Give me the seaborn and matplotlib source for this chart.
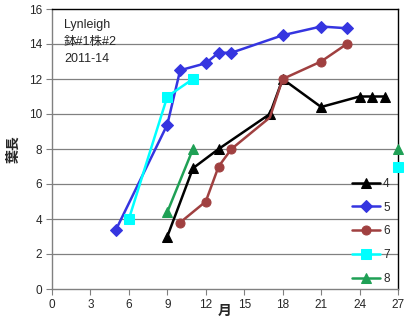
import numpy as np
import pandas as pd
import matplotlib
matplotlib.use("Agg")
import matplotlib.pyplot as plt
import seaborn as sns

sns.set_style("white")
plt.rcParams["font.family"] = ["Liberation Sans", "Noto Sans CJK JP", "DejaVu Sans"]

# Leaf length per leaf number (月 vs 葉長); segments split where the record has a gap
leaf4_x = [9, 11, 13, 17, 18, 21, 24, 25, 26]
leaf4_y = [3.0, 6.9, 8.0, 10.0, 12.0, 10.4, 11.0, 11.0, 11.0]
leaf5_x = [5, 9, 10, 12, 13, 14, 18, 21, 23]
leaf5_y = [3.4, 9.4, 12.5, 12.9, 13.5, 13.5, 14.5, 15.0, 14.9]
leaf6_x = [10, 12, 13, 14, 17, 18, 21, 23]
leaf6_y = [3.8, 5.0, 7.0, 8.0, 9.8, 12.0, 13.0, 14.0]
leaf7_x = [6, 9, 11]
leaf7_y = [4.0, 11.0, 12.0]
leaf7_x_late = [27]
leaf7_y_late = [7.0]
leaf8_x = [9, 11]
leaf8_y = [4.4, 8.0]
leaf8_x_late = [27]
leaf8_y_late = [8.0]

x_ticks = list(range(0, 28, 3))
y_ticks = list(range(0, 17, 2))

series = [
    ("4", "black", "^", [(leaf4_x, leaf4_y)], None),
    ("5", "#3535E0", "D", [(leaf5_x, leaf5_y)], None),
    # the month-17 reading of leaf 6 sits under leaf 4's marker
    ("6", "#A04040", "o", [(leaf6_x, leaf6_y)], [0, 1, 2, 3, 5, 6, 7]),
    ("7", "#00FFFF", "s", [(leaf7_x, leaf7_y), (leaf7_x_late, leaf7_y_late)], None),
    ("8", "#1FA055", "^", [(leaf8_x, leaf8_y), (leaf8_x_late, leaf8_y_late)], None),
]

fig = plt.figure(figsize=(4.14, 3.28), dpi=100)
ax = fig.add_axes([52 / 414, 39 / 328, 346 / 414, 280 / 328])

for name, color, marker, segments, every in series:
    for i, (xs, ys) in enumerate(segments):
        df = pd.DataFrame({"月": xs, "葉長": ys})
        sns.lineplot(data=df, x="月", y="葉長", ax=ax, color=color,
                     marker=marker, markersize=6.5 if marker != "D" else 6,
                     markeredgecolor=color, linewidth=1.8, markevery=every,
                     label=name if i == 0 else None, estimator=None,
                     clip_on=False, zorder=3)

ax.set_xlim(0, 27)
ax.set_ylim(0, 16)
ax.set_xticks(x_ticks)
ax.set_yticks(y_ticks)
ax.tick_params(axis="both", labelsize=8.5, length=4, width=0.8,
               color="#808080", direction="out", pad=3)
ax.tick_params(axis="y", left=True)
ax.tick_params(axis="x", bottom=True)
for y in y_ticks[1:-1]:
    ax.axhline(y, color="#808080", linewidth=0.9, zorder=1)

for side in ("left", "bottom"):
    ax.spines[side].set_color("#808080")
    ax.spines[side].set_linewidth(1.0)
for side in ("top", "right"):
    ax.spines[side].set_color("black")
    ax.spines[side].set_linewidth(1.0)

ax.set_xlabel("月", fontsize=10, fontweight="bold",
              family=["Noto Sans CJK JP"], labelpad=0)
ax.xaxis.set_label_coords(0.5, -0.055)
ax.set_ylabel("葉長", fontsize=10, fontweight="bold",
              family=["Noto Sans CJK JP"], labelpad=6)

ax.text(0.035, 0.965, "Lynleigh\n鉢#1株#2\n2011-14", transform=ax.transAxes,
        fontsize=9, va="top", ha="left", linespacing=1.55,
        family=["Liberation Sans", "Noto Sans CJK JP"])

leg = ax.legend(loc="lower right", bbox_to_anchor=(1.0, -0.015), frameon=False,
                fontsize=8.5, handlelength=2.3, handletextpad=0.3,
                labelspacing=1.0, borderaxespad=0.3)

fig.savefig("out.png", dpi=100)
